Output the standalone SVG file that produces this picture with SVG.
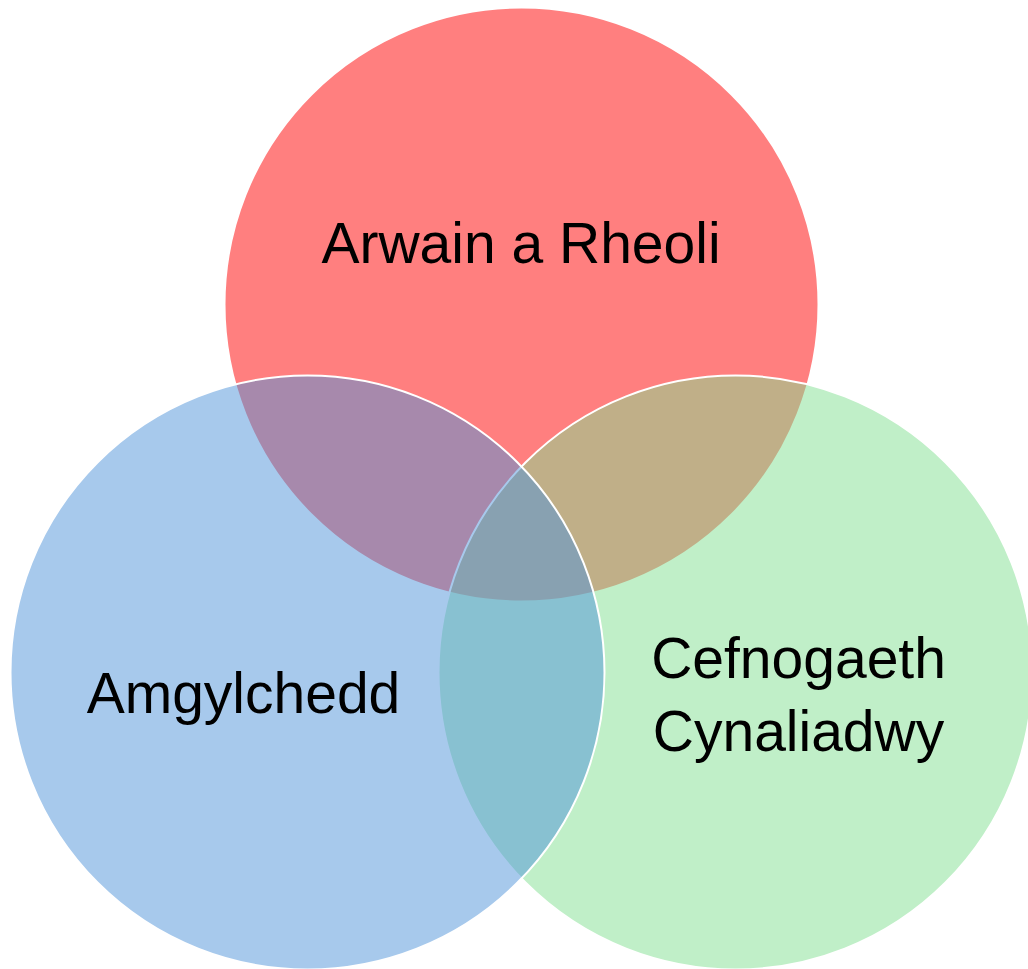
<svg xmlns="http://www.w3.org/2000/svg" width="1028" height="969" viewBox="0 0 1028 969">
  <style>
    .c { stroke: #FFFFFF; stroke-width: 2; fill-opacity: 0.5; }
    .t { font-family: "Liberation Sans", Arial, sans-serif; font-size: 57px; fill: #000000; text-anchor: middle; }
  </style>
  <rect x="0" y="0" width="1028" height="969" fill="#FFFFFF"/>
  <g id="node-leadership">
    <circle class="c" cx="521.5" cy="304.5" r="297" fill="#FF0000"/>
  </g>
  <g id="node-sustainable">
    <circle class="c" cx="735.5" cy="672.5" r="297" fill="#81DF91"/>
  </g>
  <g id="node-environment">
    <circle class="c" cx="307.5" cy="672.5" r="297" fill="#4F93D9"/>
  </g>
  <g id="labels">
    <text class="t" x="521" y="263">Arwain a Rheoli</text>
    <text class="t" x="243.5" y="713">Amgylchedd</text>
    <text class="t" x="798.5" y="678">Cefnogaeth</text>
    <text class="t" x="798.5" y="751">Cynaliadwy</text>
  </g>
  <g id="connectors"></g>
</svg>
